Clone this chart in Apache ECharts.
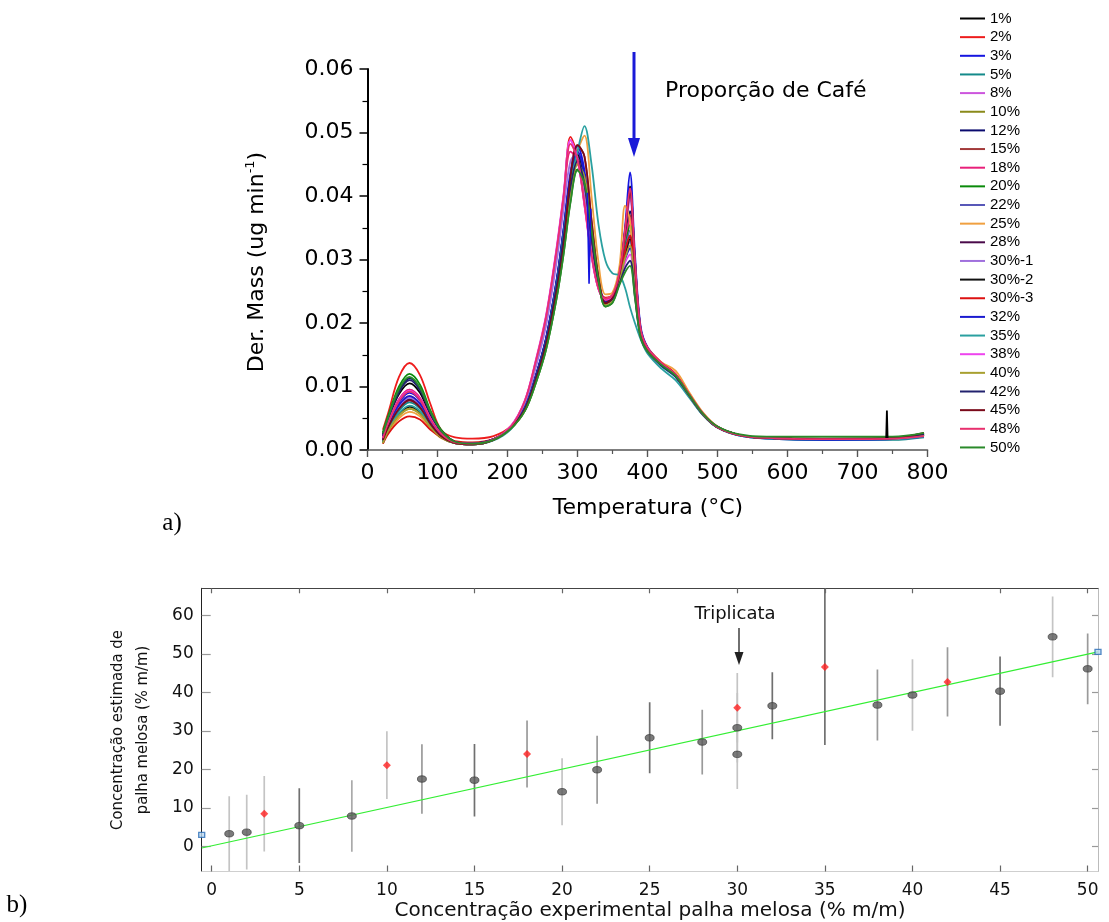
<!DOCTYPE html>
<html><head><meta charset="utf-8">
<script src="https://cdn.jsdelivr.net/npm/echarts@6/dist/echarts.min.js"></script>
<style>html,body{margin:0;padding:0;background:#fff;overflow:hidden}#c{width:1109px;height:922px}</style>
</head><body><div id="c"></div>
<script>
// ---------- (a) DTG curves ----------
const T = [22,30,45,60,75,90,105,125,150,180,205,225,240,255,270,280,290,300,310,320,330,340,350,360,368,375,382,390,400,420,440,460,480,500,530,570,650,750,795];
const names = ['1%','2%','3%','5%','8%','10%','12%','15%','18%','20%','22%','25%','28%','30%-1','30%-2','30%-3','32%','35%','38%','40%','42%','45%','48%','50%'];
const v1  = [0.0025,0.0050,0.0088,0.0105,0.0090,0.0054,0.0030,0.0013,0.0010,0.0017,0.0036, 0.0068,0.0115,0.0175,0.0265,0.0345,0.0430,0.0470,0.0430,0.0340,0.0265,0.0232,0.0240, 0.0278,0.0345,0.0415,0.0300,0.0192,0.0160,0.0135,0.0117,0.0085,0.0055,0.0036,0.0024,0.0019,0.0017,0.0018,0.0024];
const v2  = [0.0032,0.0060,0.0115,0.0137,0.0118,0.0072,0.0032,0.0020,0.0018,0.0022,0.0038, 0.0076,0.0135,0.0205,0.0310,0.0395,0.0493,0.0463,0.0390,0.0310,0.0255,0.0240,0.0245, 0.0278,0.0345,0.0412,0.0300,0.0192,0.0162,0.0138,0.0120,0.0088,0.0057,0.0037,0.0024,0.0019,0.0017,0.0018,0.0022];
const v3  = [0.0015,0.0042,0.0075,0.0090,0.0078,0.0047,0.0025,0.0012,0.0010,0.0017,0.0035, 0.0068,0.0116,0.0176,0.0267,0.0348,0.0438,0.0478,0.0440,0.0345,0.0268,0.0236,0.0242, 0.0282,0.0352,0.0437,0.0310,0.0196,0.0162,0.0136,0.0118,0.0085,0.0055,0.0036,0.0023,0.0018,0.0016,0.0017,0.0021];
const v5  = [0.0012,0.0035,0.0062,0.0075,0.0065,0.0040,0.0021,0.0011,0.0009,0.0016,0.0034, 0.0066,0.0112,0.0170,0.0258,0.0338,0.0420,0.0460,0.0425,0.0338,0.0264,0.0234,0.0240, 0.0276,0.0340,0.0405,0.0295,0.0190,0.0158,0.0132,0.0115,0.0084,0.0054,0.0035,0.0023,0.0018,0.0016,0.0016,0.0020];
const v8  = [0.0020,0.0045,0.0080,0.0095,0.0082,0.0050,0.0026,0.0012,0.0010,0.0017,0.0037, 0.0078,0.0138,0.0210,0.0315,0.0400,0.0488,0.0460,0.0388,0.0308,0.0254,0.0238,0.0244, 0.0275,0.0338,0.0395,0.0290,0.0190,0.0160,0.0136,0.0118,0.0086,0.0056,0.0036,0.0024,0.0019,0.0017,0.0018,0.0023];
const v10 = [0.0010,0.0030,0.0054,0.0065,0.0057,0.0036,0.0020,0.0011,0.0009,0.0016,0.0034, 0.0066,0.0112,0.0170,0.0258,0.0336,0.0410,0.0450,0.0412,0.0335,0.0262,0.0232,0.0238, 0.0266,0.0305,0.0328,0.0255,0.0181,0.0156,0.0134,0.0117,0.0085,0.0055,0.0036,0.0024,0.0019,0.0017,0.0018,0.0024];
const v12 = [0.0022,0.0052,0.0094,0.0113,0.0097,0.0058,0.0031,0.0013,0.0010,0.0017,0.0036, 0.0067,0.0114,0.0173,0.0262,0.0341,0.0420,0.0460,0.0422,0.0337,0.0264,0.0233,0.0239, 0.0272,0.0330,0.0376,0.0280,0.0188,0.0159,0.0135,0.0117,0.0085,0.0055,0.0036,0.0024,0.0019,0.0017,0.0018,0.0025];
const v15 = [0.0018,0.0040,0.0071,0.0085,0.0073,0.0045,0.0024,0.0012,0.0010,0.0017,0.0035, 0.0063,0.0107,0.0163,0.0245,0.0318,0.0430,0.0480,0.0462,0.0362,0.0272,0.0230,0.0236, 0.0270,0.0326,0.0370,0.0275,0.0187,0.0158,0.0135,0.0117,0.0085,0.0055,0.0036,0.0024,0.0019,0.0017,0.0018,0.0024];
const v18 = [0.0020,0.0046,0.0080,0.0095,0.0082,0.0050,0.0026,0.0012,0.0010,0.0017,0.0037, 0.0077,0.0136,0.0207,0.0312,0.0396,0.0470,0.0455,0.0385,0.0307,0.0254,0.0237,0.0243, 0.0272,0.0325,0.0365,0.0272,0.0186,0.0158,0.0135,0.0117,0.0086,0.0056,0.0036,0.0024,0.0019,0.0017,0.0018,0.0023];
const v20 = [0.0028,0.0055,0.0100,0.0120,0.0103,0.0062,0.0032,0.0013,0.0010,0.0016,0.0034, 0.0062,0.0104,0.0158,0.0238,0.0308,0.0392,0.0442,0.0422,0.0350,0.0268,0.0226,0.0232, 0.0268,0.0318,0.0355,0.0268,0.0184,0.0157,0.0134,0.0116,0.0085,0.0055,0.0036,0.0024,0.0020,0.0018,0.0019,0.0026];
const v22 = [0.0016,0.0037,0.0065,0.0078,0.0067,0.0041,0.0022,0.0011,0.0009,0.0016,0.0035, 0.0067,0.0114,0.0173,0.0262,0.0341,0.0420,0.0460,0.0422,0.0337,0.0264,0.0233,0.0239, 0.0268,0.0315,0.0346,0.0265,0.0184,0.0157,0.0135,0.0117,0.0085,0.0055,0.0036,0.0024,0.0019,0.0017,0.0017,0.0022];
const v25 = [0.0012,0.0028,0.0050,0.0060,0.0053,0.0034,0.0019,0.0011,0.0009,0.0016,0.0034, 0.0064,0.0108,0.0165,0.0250,0.0325,0.0410,0.0470,0.0495,0.0400,0.0295,0.0245,0.0248, 0.0290,0.0385,0.0360,0.0250,0.0185,0.0160,0.0138,0.0125,0.0090,0.0058,0.0037,0.0024,0.0019,0.0017,0.0018,0.0023];
const v28 = [0.0016,0.0038,0.0067,0.0080,0.0069,0.0042,0.0023,0.0011,0.0009,0.0016,0.0035, 0.0067,0.0114,0.0173,0.0262,0.0340,0.0418,0.0458,0.0420,0.0336,0.0264,0.0233,0.0239, 0.0267,0.0312,0.0336,0.0262,0.0183,0.0157,0.0134,0.0116,0.0085,0.0055,0.0036,0.0024,0.0019,0.0017,0.0018,0.0024];
const v30a= [0.0017,0.0039,0.0069,0.0082,0.0071,0.0043,0.0023,0.0011,0.0009,0.0016,0.0036, 0.0073,0.0128,0.0195,0.0295,0.0378,0.0455,0.0468,0.0405,0.0320,0.0259,0.0236,0.0241, 0.0266,0.0306,0.0328,0.0256,0.0182,0.0156,0.0134,0.0116,0.0085,0.0055,0.0036,0.0024,0.0019,0.0017,0.0018,0.0023];
const v30b= [0.0013,0.0032,0.0057,0.0068,0.0059,0.0037,0.0020,0.0011,0.0009,0.0016,0.0034, 0.0066,0.0113,0.0172,0.0260,0.0339,0.0424,0.0465,0.0426,0.0338,0.0264,0.0231,0.0237, 0.0266,0.0307,0.0332,0.0258,0.0182,0.0156,0.0134,0.0116,0.0085,0.0055,0.0036,0.0024,0.0019,0.0017,0.0018,0.0023];
const v30c= [0.0010,0.0026,0.0045,0.0053,0.0048,0.0032,0.0021,0.0014,0.0012,0.0017,0.0035, 0.0066,0.0112,0.0170,0.0257,0.0334,0.0415,0.0455,0.0418,0.0335,0.0263,0.0234,0.0240, 0.0268,0.0313,0.0338,0.0262,0.0183,0.0158,0.0137,0.0119,0.0087,0.0056,0.0036,0.0024,0.0019,0.0017,0.0018,0.0022];
const v32 = [0.0018,0.0040,0.0071,0.0085,0.0073,0.0045,0.0024,0.0012,0.0010,0.0017,0.0035, 0.0068,0.0115,0.0175,0.0265,0.0345,0.0430,0.0470,0.0430,0.0340,0.0265,0.0233,0.0239, 0.0265,0.0300,0.0318,0.0250,0.0180,0.0155,0.0133,0.0116,0.0085,0.0055,0.0036,0.0024,0.0019,0.0016,0.0017,0.0021];
const v35 = [0.0012,0.0033,0.0058,0.0070,0.0061,0.0038,0.0021,0.0011,0.0009,0.0015,0.0033, 0.0066,0.0112,0.0170,0.0260,0.0338,0.0420,0.0470,0.0510,0.0450,0.0355,0.0298,0.0278, 0.0275,0.0255,0.0225,0.0200,0.0175,0.0152,0.0128,0.0110,0.0082,0.0054,0.0036,0.0024,0.0019,0.0017,0.0017,0.0021];
const v38 = [0.0019,0.0044,0.0078,0.0093,0.0080,0.0049,0.0026,0.0012,0.0010,0.0017,0.0038, 0.0079,0.0140,0.0212,0.0318,0.0402,0.0488,0.0458,0.0385,0.0305,0.0253,0.0237,0.0242, 0.0263,0.0295,0.0308,0.0245,0.0180,0.0156,0.0134,0.0117,0.0086,0.0056,0.0036,0.0024,0.0019,0.0017,0.0018,0.0023];
const v40 = [0.0011,0.0031,0.0054,0.0065,0.0057,0.0036,0.0020,0.0011,0.0009,0.0016,0.0034, 0.0063,0.0106,0.0161,0.0243,0.0314,0.0400,0.0450,0.0430,0.0355,0.0270,0.0229,0.0235, 0.0265,0.0302,0.0322,0.0253,0.0181,0.0156,0.0134,0.0117,0.0085,0.0055,0.0036,0.0024,0.0019,0.0017,0.0018,0.0024];
const v42 = [0.0022,0.0051,0.0091,0.0110,0.0094,0.0057,0.0030,0.0013,0.0010,0.0017,0.0035, 0.0066,0.0112,0.0170,0.0257,0.0334,0.0415,0.0455,0.0418,0.0335,0.0263,0.0232,0.0238, 0.0262,0.0287,0.0298,0.0242,0.0179,0.0155,0.0133,0.0116,0.0085,0.0055,0.0036,0.0024,0.0019,0.0017,0.0018,0.0025];
const v45 = [0.0016,0.0037,0.0065,0.0078,0.0067,0.0041,0.0022,0.0011,0.0009,0.0016,0.0035, 0.0064,0.0108,0.0165,0.0248,0.0320,0.0430,0.0480,0.0462,0.0362,0.0272,0.0231,0.0240, 0.0278,0.0345,0.0405,0.0295,0.0190,0.0160,0.0136,0.0118,0.0086,0.0056,0.0036,0.0024,0.0019,0.0018,0.0019,0.0027];
const v48 = [0.0019,0.0044,0.0077,0.0092,0.0079,0.0048,0.0026,0.0012,0.0010,0.0017,0.0037, 0.0078,0.0138,0.0209,0.0314,0.0398,0.0482,0.0458,0.0388,0.0308,0.0254,0.0238,0.0244, 0.0280,0.0348,0.0412,0.0300,0.0192,0.0161,0.0137,0.0119,0.0087,0.0056,0.0036,0.0024,0.0019,0.0017,0.0018,0.0022];
const v50 = [0.0026,0.0053,0.0096,0.0115,0.0098,0.0060,0.0031,0.0013,0.0010,0.0016,0.0034, 0.0062,0.0104,0.0158,0.0238,0.0308,0.0390,0.0440,0.0420,0.0348,0.0267,0.0226,0.0232, 0.0260,0.0280,0.0290,0.0240,0.0178,0.0155,0.0134,0.0117,0.0086,0.0056,0.0037,0.0025,0.0021,0.0021,0.0021,0.0027];
const curves = [v1,v2,v3,v5,v8,v10,v12,v15,v18,v20,v22,v25,v28,v30a,v30b,v30c,v32,v35,v38,v40,v42,v45,v48,v50];
// small artefacts in the recorded curves
const spikeT = [741, 742, 743];      const spikeV = [0.0019, 0.0062, 0.0019];   // 30%-2
const dipT   = [314, 316.5, 319];    const dipV   = [0.0405, 0.0262, 0.0380];   // 3%
const xTicksA = [0,100,200,300,400,500,600,700,800];

// ---------- (b) estimated vs experimental ----------
const grayX   = [1, 2, 5, 8, 12, 15, 20, 22, 25, 28, 30, 30, 32, 38, 40, 45, 48, 50];
const grayY   = [3.3, 3.7, 5.4, 7.9, 17.5, 17.2, 14.2, 19.9, 28.2, 27.1, 30.8, 23.9, 36.5, 36.7, 39.3, 40.3, 54.4, 46.1];
const grayErr = [9.7, 9.7, 9.7, 9.3, 9.0, 9.4, 8.7, 8.8, 9.2, 8.4, 9.0, 9.0, 8.7, 9.2, 9.3, 9.0, 10.5, 9.2];
const redX    = [3, 10, 18, 30, 35, 42];
const redY    = [8.5, 21.1, 24.0, 36.0, 46.6, 42.7];
const redErr  = [9.8, 8.8, 8.7, 9.0, 20.3, 9.0];
const fitX    = [-0.57, 50.59];
const fitY    = [-0.4, 50.5];
const refX    = [-0.57, 50.59];
const refY    = [3.0, 50.5];
const xTicksB = [0,5,10,15,20,25,30,35,40,45,50];
const yTicksB = [0,10,20,30,40,50,60];

// ---------- styles ----------
const colors = ['#000000','#ee1c1c','#1515e0','#148a8a','#cc55dd','#8a8a1a','#0a0a6e','#a33a3a','#e8207a','#0a8a0a','#5858b8','#f0a040','#4a0a4a','#a070dd','#111111','#dd1111','#1a1ad0','#2aa0a0','#ee44ee','#a8a030','#22226e','#7a0a1a','#e8306e','#2a8a2a'];
const grayShade = ['#c4c4c4','#c4c4c4','#707070','#aaaaaa','#9a9a9a','#707070','#c4c4c4','#9a9a9a','#707070','#9a9a9a','#c4c4c4','#c4c4c4','#707070','#9a9a9a','#c4c4c4','#707070','#c4c4c4','#9a9a9a'];
const redShade  = ['#c4c4c4','#c4c4c4','#9a9a9a','#c4c4c4','#707070','#9a9a9a'];
const SANS = 'DejaVu Sans, Verdana, sans-serif';
const ARIAL = 'Liberation Sans, Arial, sans-serif';

const chart = echarts.init(document.getElementById('c'));

const series = curves.map((vals, i) => ({
  name: names[i], type: 'line', xAxisIndex: 0, yAxisIndex: 0,
  data: T.map((t, k) => [t, vals[k]]),
  smooth: 0.35, showSymbol: false, symbol: 'none',
  lineStyle: { width: 1.8, color: colors[i] }, itemStyle: { color: colors[i] },
  silent: true, z: 2
}));
series.push({ type: 'line', xAxisIndex: 0, yAxisIndex: 0, data: spikeT.map((t,k)=>[t, spikeV[k]]),
  showSymbol: false, symbol: 'none', lineStyle: { width: 1.8, color: '#000' }, silent: true, z: 3 });
series.push({ type: 'line', xAxisIndex: 0, yAxisIndex: 0, data: dipT.map((t,k)=>[t, dipV[k]]),
  showSymbol: false, symbol: 'none', lineStyle: { width: 1.6, color: '#1515e0' }, silent: true, z: 3 });

function errBars(xs, ys, es, shades) {
  return {
    type: 'custom', xAxisIndex: 1, yAxisIndex: 1, clip: true, silent: true, z: 2,
    data: xs.map((x, i) => [x, ys[i] - es[i], ys[i] + es[i]]),
    encode: { x: 0, y: [1, 2] },
    renderItem: (params, api) => {
      const x = api.value(0);
      const p1 = api.coord([x, api.value(1)]);
      const p2 = api.coord([x, api.value(2)]);
      return { type: 'line', shape: { x1: p1[0], y1: p1[1], x2: p2[0], y2: p2[1] },
        style: { stroke: shades[params.dataIndex], lineWidth: 1.7 } };
    }
  };
}
series.push(errBars(grayX, grayY, grayErr, grayShade));
series.push(errBars(redX, redY, redErr, redShade));
series.push({ type: 'line', xAxisIndex: 1, yAxisIndex: 1, data: fitX.map((x,i)=>[x, fitY[i]]),
  showSymbol: false, symbol: 'none', lineStyle: { width: 1.2, color: '#33ee33' }, silent: true, z: 3 });
series.push({ type: 'scatter', xAxisIndex: 1, yAxisIndex: 1, data: grayX.map((x,i)=>[x, grayY[i]]),
  symbol: 'circle', symbolSize: [9, 6.5], itemStyle: { color: '#5a5a5a', borderColor: '#333', borderWidth: 0.8 }, silent: true, z: 4 });
series.push({ type: 'scatter', xAxisIndex: 1, yAxisIndex: 1, data: redX.map((x,i)=>[x, redY[i]]),
  symbol: 'diamond', symbolSize: [8, 8], itemStyle: { color: '#ff2020' }, silent: true, z: 5 });
series.push({ type: 'scatter', xAxisIndex: 1, yAxisIndex: 1, data: refX.map((x,i)=>[x, refY[i]]),
  symbol: 'rect', symbolSize: [6, 5], itemStyle: { color: '#bcd8f0', borderColor: '#2a6eb8', borderWidth: 1.2 }, silent: true, z: 6 });

const option = {
  animation: false,
  backgroundColor: '#fff',
  grid: [
    { left: 367.5, top: 69, width: 560, height: 381 },
    { left: 201.7, top: 588.3, width: 896.3, height: 283.2 }
  ],
  legend: {
    data: names, orient: 'vertical', left: 960, top: 11, padding: 0,
    itemWidth: 25, itemHeight: 2, itemGap: 3.65, icon: 'rect', selectedMode: false,
    textStyle: { fontFamily: ARIAL, fontSize: 15, lineHeight: 15, color: '#000' }
  },
  xAxis: [
    { gridIndex: 0, type: 'value', min: 0, max: 800, interval: 100,
      axisLine: { show: true, lineStyle: { color: '#555', width: 1.6 } },
      axisTick: { show: true, inside: false, length: 7, lineStyle: { color: '#555', width: 1.4 } },
      minorTick: { show: true, splitNumber: 2, length: 4, lineStyle: { color: '#555', width: 1.2 } },
      axisLabel: { margin: 12, fontFamily: SANS, fontSize: 22, color: '#000', customValues: xTicksA },
      splitLine: { show: false } },
    { gridIndex: 1, type: 'value', min: -0.57, max: 50.59, position: 'bottom',
      axisLine: { show: true, onZero: false, lineStyle: { color: '#cfcfcf', width: 1 } },
      axisTick: { show: true, inside: true, length: 6, customValues: xTicksB, lineStyle: { color: '#666', width: 1.2 } },
      axisLabel: { margin: 11, fontFamily: SANS, fontSize: 17, color: '#111', customValues: xTicksB },
      splitLine: { show: false } },
    { gridIndex: 1, type: 'value', min: -0.57, max: 50.59, position: 'top',
      axisLine: { show: true, onZero: false, lineStyle: { color: '#444', width: 1 } },
      axisTick: { show: true, inside: true, length: 5, customValues: xTicksB, lineStyle: { color: '#666', width: 1.2 } },
      axisLabel: { show: false }, splitLine: { show: false } }
  ],
  yAxis: [
    { gridIndex: 0, type: 'value', min: 0, max: 0.06, interval: 0.01,
      axisLine: { show: true, lineStyle: { color: '#000', width: 2 } },
      axisTick: { show: true, inside: false, length: 8, lineStyle: { color: '#000', width: 1.5 } },
      minorTick: { show: true, splitNumber: 2, length: 5, lineStyle: { color: '#000', width: 1.2 } },
      axisLabel: { margin: 14, fontFamily: SANS, fontSize: 22, color: '#000', formatter: v => v.toFixed(2) },
      splitLine: { show: false } },
    { gridIndex: 1, type: 'value', min: -6.5, max: 67, position: 'left',
      axisLine: { show: true, onZero: false, lineStyle: { color: '#222', width: 1 } },
      axisTick: { show: true, inside: true, length: 9, customValues: yTicksB, lineStyle: { color: '#999', width: 1.2 } },
      axisLabel: { margin: 8, fontFamily: SANS, fontSize: 17, color: '#111', customValues: yTicksB },
      splitLine: { show: false } },
    { gridIndex: 1, type: 'value', min: -6.5, max: 67, position: 'right',
      axisLine: { show: true, onZero: false, lineStyle: { color: '#bbb', width: 1 } },
      axisTick: { show: true, inside: true, length: 6, customValues: yTicksB, lineStyle: { color: '#999', width: 1.2 } },
      axisLabel: { show: false }, splitLine: { show: false } }
  ],
  series: series,
  graphic: [
    { type: 'text', x: 257, y: 262, rotation: Math.PI / 2,
      style: { text: '{a|Der. Mass (ug min}{s|-1}{a|)}', align: 'center', verticalAlign: 'middle',
        rich: { a: { fontFamily: SANS, fontSize: 22, fill: '#000', lineHeight: 26 },
                s: { fontFamily: SANS, fontSize: 13, fill: '#000', verticalAlign: 'top', lineHeight: 14 } } } },
    { type: 'text', x: 648, y: 508,
      style: { text: 'Temperatura (°C)', fontFamily: SANS, fontSize: 22, fill: '#000', align: 'center', verticalAlign: 'middle' } },
    { type: 'text', x: 665, y: 91,
      style: { text: 'Proporção de Café', fontFamily: SANS, fontSize: 22, fill: '#000', align: 'left', verticalAlign: 'middle' } },
    { type: 'line', shape: { x1: 634, y1: 52, x2: 634, y2: 142 }, style: { stroke: '#1a1ad8', lineWidth: 3 } },
    { type: 'polygon', shape: { points: [[628, 138], [640, 138], [634, 157]] }, style: { fill: '#1a1ad8' } },
    { type: 'text', x: 172, y: 523,
      style: { text: 'a)', fontFamily: 'Liberation Serif, Times New Roman, serif', fontSize: 25, fill: '#000', align: 'center', verticalAlign: 'middle' } },
    { type: 'text', x: 17, y: 905,
      style: { text: 'b)', fontFamily: 'Liberation Serif, Times New Roman, serif', fontSize: 25, fill: '#000', align: 'center', verticalAlign: 'middle' } },
    { type: 'text', x: 130, y: 730, rotation: Math.PI / 2,
      style: { text: 'Concentração estimada de\npalha melosa (% m/m)', fontFamily: 'Liberation Sans Narrow, DejaVu Sans Condensed, Arial Narrow, sans-serif',
        fontSize: 16.5, lineHeight: 25, fill: '#111', align: 'center', verticalAlign: 'middle' } },
    { type: 'text', x: 650, y: 911,
      style: { text: 'Concentração experimental palha melosa (% m/m)', fontFamily: SANS, fontSize: 20, fill: '#111', align: 'center', verticalAlign: 'middle' } },
    { type: 'text', x: 735, y: 614,
      style: { text: 'Triplicata', fontFamily: SANS, fontSize: 18, fill: '#111', align: 'center', verticalAlign: 'middle' } },
    { type: 'line', shape: { x1: 739, y1: 628, x2: 739, y2: 656 }, style: { stroke: '#222', lineWidth: 1.3 } },
    { type: 'polygon', shape: { points: [[734.5, 652], [743.5, 652], [739, 665]] }, style: { fill: '#222' } }
  ]
};
chart.setOption(option);
</script></body></html>
